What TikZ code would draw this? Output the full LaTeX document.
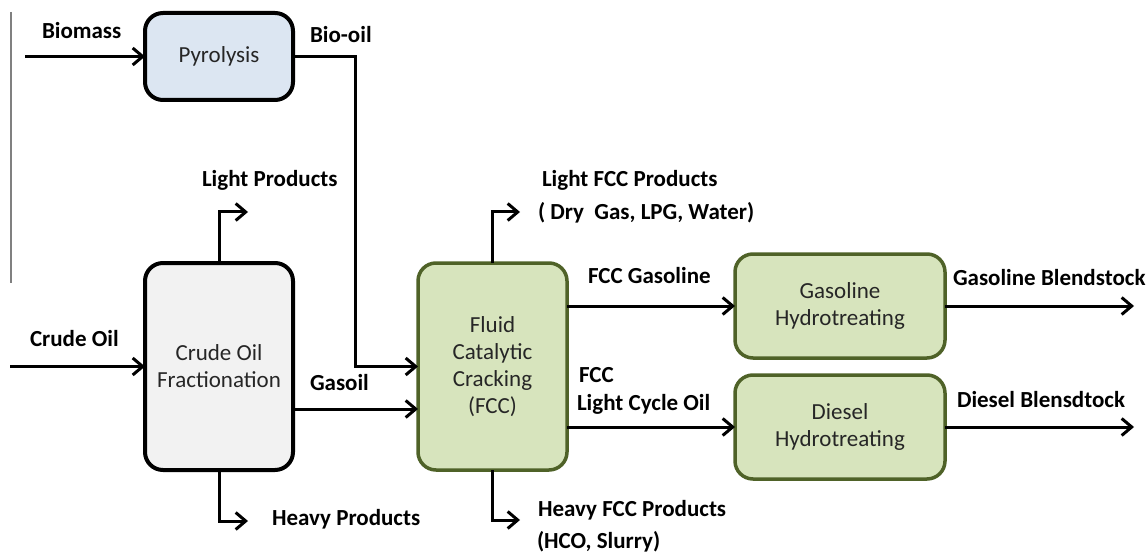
\documentclass[tikz,border=0pt]{standalone}
\usepackage{fontspec}
\setmainfont{Carlito}
\usetikzlibrary{arrows.meta}
\definecolor{pyrofill}{HTML}{DCE6F2}
\definecolor{crudefill}{HTML}{F2F2F2}
\definecolor{greenfill}{HTML}{D7E4BD}
\definecolor{greenline}{HTML}{4F6228}
\definecolor{boxtext}{HTML}{262626}
\begin{document}
\begin{tikzpicture}[x=1pt,y=-1pt,
  every node/.style={font=\fontsize{23}{27}\selectfont, inner sep=0pt, outer sep=0pt},
  unit/.style={draw, line width=4pt, rounded corners=18pt, align=center, text=boxtext},
  blueunit/.style={unit, fill=pyrofill, draw=black},
  grayunit/.style={unit, fill=crudefill, draw=black},
  greenunit/.style={unit, fill=greenfill, draw=greenline, line width=3.5pt},
  lbl/.style={font=\fontsize{23}{27}\selectfont\bfseries, anchor=base west, align=left},
  flow/.style={line width=3pt, -{Straight Barb[length=10pt,width=17pt,line width=3pt]}},
  pipe/.style={line width=3pt}]
\useasboundingbox (0,0) rectangle (1147,553);
% stray gray rule at left
\draw[gray, line width=1.5pt] (11,12) -- (11,283);

% units
\node[blueunit, minimum width=148pt, minimum height=87pt] (pyro) at (219,56.5) {Pyrolysis};
\node[grayunit, minimum width=148pt, minimum height=207pt] (crude) at (219,366.5) {Crude Oil\\Fractionation};
\node[greenunit, minimum width=149pt, minimum height=207pt] (fcc) at (492.5,366.5) {Fluid\\Catalytic\\Cracking\\(FCC)};
\node[greenunit, minimum width=210pt, minimum height=104pt] (ght) at (840,306) {Gasoline\\Hydrotreating};
\node[greenunit, minimum width=210pt, minimum height=104pt] (dht) at (840,427) {Diesel\\Hydrotreating};

% free ends
\coordinate (bm) at (25,56.5);
\coordinate (co) at (10,366.5);
\coordinate (j1) at (355,366.5);
\coordinate (lp) at (248,212);
\coordinate (hp) at (248,521);
\coordinate (gas) at (0,409);
\coordinate (lf) at (520,212);
\coordinate (hf) at (520,520);
\coordinate (gbo) at (1134,306);
\coordinate (dbo) at (1134,427);

% connectors
\draw[flow] (bm) -- (pyro.west);
\draw[flow] (pyro.east) -| (j1) -- (fcc.west);
\draw[flow] (co) -- (crude.west);
\draw[flow] (crude.north) |- (lp);
\draw[flow] (crude.south) |- (hp);
\draw[flow] (crude.east |- gas) -- (fcc.west |- gas);
\draw[flow] (fcc.north) |- (lf);
\draw[flow] (fcc.south) |- (hf);
\draw[flow] (fcc.east |- ght.west) -- (ght.west);
\draw[flow] (fcc.east |- dht.west) -- (dht.west);
\draw[flow] (ght.east) -- (gbo);
\draw[flow] (dht.east) -- (dbo);

% labels
\node[lbl] (lbiomass) at (42,39) {Biomass};
\node[lbl] (lbiooil) at (310,43) {Bio-oil};
\node[lbl] (lcrude) at (30,346) {Crude Oil};
\node[lbl] (llight) at (202,187) {Light Products};
\node[lbl] (lgasoil) at (310,390) {Gasoil};
\node[lbl] (lheavy) at (272,525) {Heavy Products};
\node[lbl] (llfcc) at (542,187) {Light FCC Products};
\node[lbl] (llfcc2) at (538,219) {( Dry\ \ Gas, LPG, Water)};
\node[lbl] (lfccg) at (588,283) {FCC Gasoline};
\node[lbl] (lfcc) at (579,382) {FCC};
\node[lbl] (llco) at (577,410) {Light Cycle Oil};
\node[lbl] (lhfcc) at (538,516) {Heavy FCC Products};
\node[lbl] (lhfcc2) at (537,548) {(HCO, Slurry)};
\node[lbl] (lgb) at (953,285) {Gasoline Blendstock};
\node[lbl] (ldb) at (957,407) {Diesel Blensdtock};
\end{tikzpicture}
\end{document}
